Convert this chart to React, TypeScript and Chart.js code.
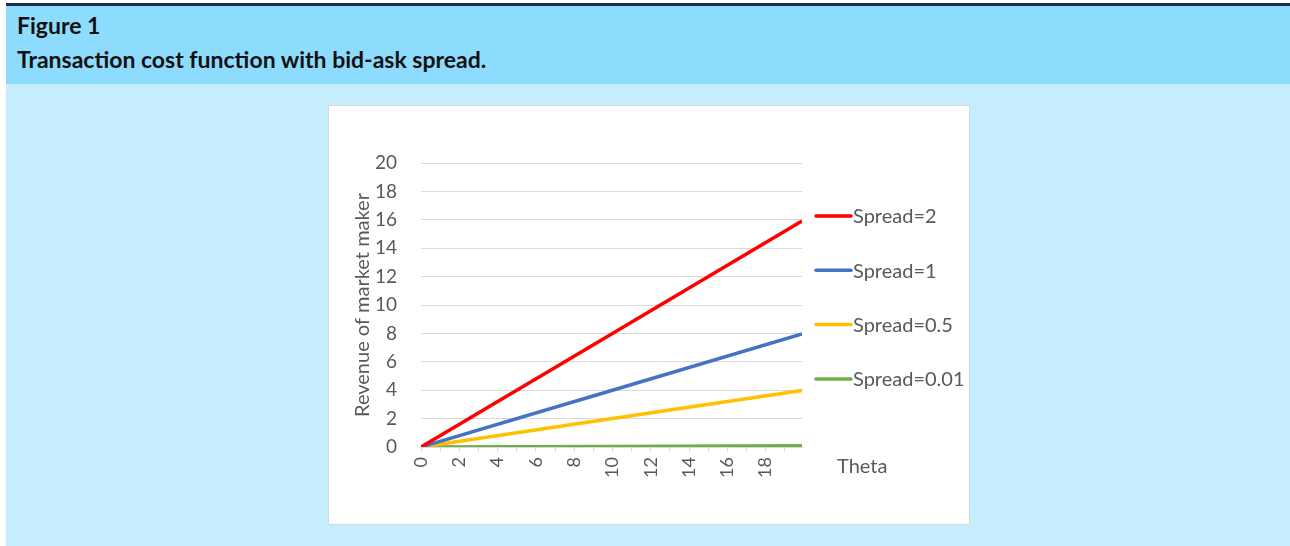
import React, { useEffect, useRef } from "react";
import { Chart, registerables } from "chart.js";

Chart.register(...registerables);

// Data
const thetaValues = [0, 10, 19.9];
const spread2 = [0, 8.0, 15.92];
const spread1 = [0, 4.0, 7.96];
const spread05 = [0, 2.0, 3.98];
const spread001 = [0, 0.04, 0.08];
const seriesLabels = ["Spread=2", "Spread=1", "Spread=0.5", "Spread=0.01"];
const seriesColors = ["#FF0000", "#4472C4", "#FFC000", "#70AD47"];
const yTickMax = 20;
const yTickStep = 2;
const xLabelStep = 2;

const TEXT_COLOR = "#595959";
const FONT = "Lato, 'Open Sans', sans-serif";

const overlayPlugin = {
  id: "overlay",
  afterDraw(chart: any) {
    const { ctx, chartArea } = chart;
    ctx.save();
    ctx.font = `20px ${FONT}`;
    ctx.fillStyle = TEXT_COLOR;
    ctx.textBaseline = "middle";
    ctx.textAlign = "left";
    // legend
    chart.data.datasets.forEach((ds: any, i: number) => {
      const y = chartArea.top + 53 + i * 54.3;
      ctx.strokeStyle = ds.borderColor;
      ctx.lineWidth = 3.5;
      ctx.lineCap = "round";
      ctx.beginPath();
      ctx.moveTo(chartArea.right + 14, y);
      ctx.lineTo(chartArea.right + 49, y);
      ctx.stroke();
      ctx.fillText(ds.label, chartArea.right + 51, y + 1);
    });
    // x-axis title
    ctx.fillText("Theta", chartArea.right + 35, chartArea.bottom + 20);
    ctx.restore();
  },
};

function ChartBox() {
  const ref = useRef<HTMLCanvasElement | null>(null);
  useEffect(() => {
    if (!ref.current) return;
    const all = [spread2, spread1, spread05, spread001];
    const chart = new Chart(ref.current, {
      type: "line",
      data: {
        datasets: all.map((vals, i) => ({
          label: seriesLabels[i],
          data: vals.map((v, j) => ({ x: thetaValues[j], y: v })),
          borderColor: seriesColors[i],
          backgroundColor: seriesColors[i],
          borderWidth: 3.5,
          pointRadius: 0,
          tension: 0,
        })),
      },
      options: {
        animation: false,
        responsive: false,
        layout: { padding: { left: 0, top: 57, right: 167, bottom: 0 } },
        plugins: { legend: { display: false }, tooltip: { enabled: false } },
        scales: {
          x: {
            type: "linear",
            min: 0,
            max: 19.9,
            afterFit: (s: any) => {
              s.height = 77;
            },
            border: { display: true, color: "#D9D9D9", width: 1 },
            grid: {
              drawOnChartArea: false,
              drawTicks: true,
              tickLength: 5,
              color: "#D9D9D9",
            },
            ticks: {
              stepSize: 1,
              includeBounds: false,
              autoSkip: false,
              minRotation: 90,
              maxRotation: 90,
              padding: 5,
              color: TEXT_COLOR,
              font: { family: FONT, size: 18 },
              callback: (v: any) => (Number(v) % xLabelStep === 0 ? String(v) : ""),
            },
          },
          y: {
            min: 0,
            max: yTickMax,
            afterFit: (s: any) => {
              s.width = 92;
            },
            border: { display: false },
            grid: { color: "#D9D9D9", drawTicks: false, lineWidth: 1 },
            ticks: {
              stepSize: yTickStep,
              padding: 24,
              color: TEXT_COLOR,
              font: { family: FONT, size: 19 },
            },
            title: {
              display: true,
              text: "Revenue of market maker",
              color: TEXT_COLOR,
              font: { family: FONT, size: 20 },
              padding: { top: 22, bottom: 0 },
            },
          },
        },
      },
      plugins: [overlayPlugin],
    });
    return () => chart.destroy();
  }, []);
  return <canvas ref={ref} width={640} height={418} style={{ display: "block" }} />;
}

export default function App() {
  return (
    <div style={{ position: "absolute", left: 0, top: 0, width: 1290, height: 546, background: "#ffffff", overflow: "hidden" }}>
      <div style={{ position: "absolute", left: 6, top: 3, width: 1284, height: 3, background: "#1c2c4c" }} />
      <div style={{ position: "absolute", left: 6, top: 6, width: 1284, height: 78, background: "#8edcfd" }} />
      <div style={{ position: "absolute", left: 6, top: 84, width: 1284, height: 462, background: "#c6edfd" }} />
      <div style={{ position: "absolute", left: 17, top: 11, font: `bold 23px ${FONT}`, color: "#111111", whiteSpace: "nowrap", lineHeight: "28px" }}>
        Figure 1
      </div>
      <div style={{ position: "absolute", left: 17, top: 45, font: `bold 23px ${FONT}`, color: "#111111", whiteSpace: "nowrap", lineHeight: "28px" }}>
        Transaction cost function with bid-ask spread.
      </div>
      <div style={{ position: "absolute", left: 328, top: 105, width: 640, height: 418, border: "1px solid #D9D9D9", background: "#ffffff" }}>
        <ChartBox />
      </div>
    </div>
  );
}
